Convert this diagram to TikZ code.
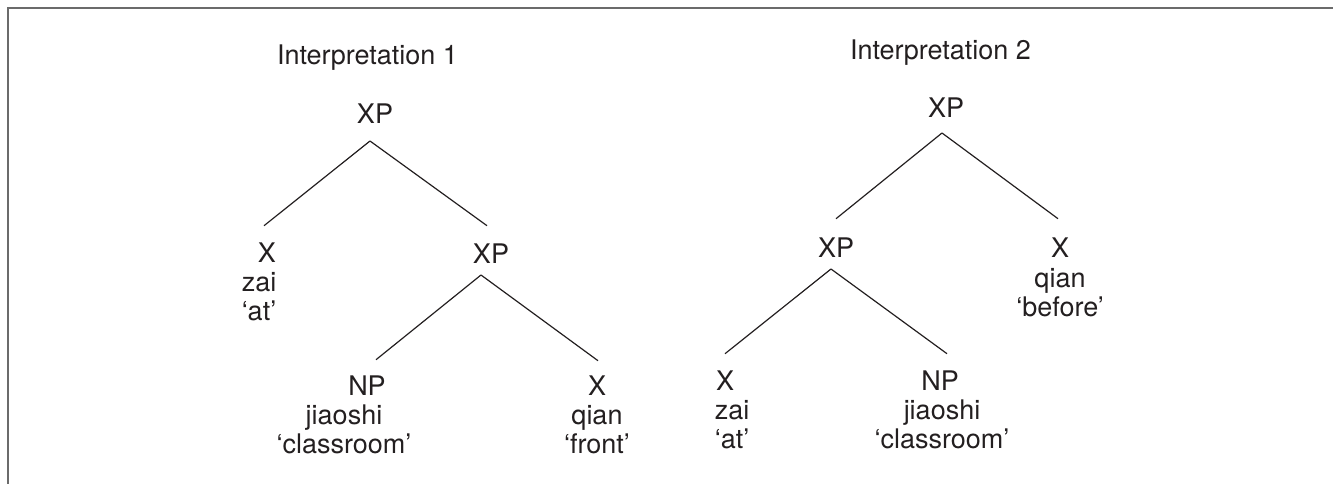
\documentclass[tikz,border=0pt]{standalone}
\usepackage{fontspec}
\setmainfont{TeX Gyre Heros}
\definecolor{ink}{HTML}{231F20}
\definecolor{framegray}{HTML}{6B6B6B}
\tikzset{
  lbl/.style={inner sep=0pt, outer sep=0pt, anchor=base, text=ink,
    font=\fontsize{27}{29.5}\selectfont},
  gloss/.style={lbl, align=center},
  title/.style={lbl, anchor=base west},
  branch/.style={draw=ink, line width=1.2pt},
  framebar/.style={draw=framegray, line width=2pt}
}
\begin{document}
\begin{tikzpicture}[x=1pt,y=-1pt]
\useasboundingbox (0,0) rectangle (1333,484);
% frame
\draw[framebar] (8,484) -- (8,8.5) -- (1333,8.5);

% ---------- Interpretation 1 ----------
\node[title] (t1) at (277,65) {Interpretation 1};
\node[lbl] (xp1) at (375,124) {XP};
\node[lbl] (x1) at (267,262) {X};
\node[gloss] (g1) at (259,320.5) {zai\\‘at’};
\node[lbl] (xp2) at (491,263) {XP};
\node[lbl] (np1) at (367,395) {NP};
\node[gloss] (g3) at (344,453.5) {jiaoshi\\‘classroom’};
\node[lbl] (xq1) at (597,395) {X};
\node[gloss] (g4) at (597,453.5) {qian\\‘front’};

\draw[branch] ([xshift=-5pt,yshift=-17pt]xp1.south) -- ([xshift=-3pt,yshift=16.6pt]x1.north);
\draw[branch] ([xshift=-5pt,yshift=-17pt]xp1.south) -- ([xshift=-4pt,yshift=17.6pt]xp2.north);
\draw[branch] ([xshift=-10pt,yshift=-12pt]xp2.south) -- ([xshift=9pt,yshift=15.6pt]np1.north);
\draw[branch] ([xshift=-10pt,yshift=-12pt]xp2.south) -- ([xshift=1pt,yshift=14.6pt]xq1.north);

% ---------- Interpretation 2 ----------
\node[title] (t2) at (850,60) {Interpretation 2};
\node[lbl] (xpr) at (946,118) {XP};
\node[lbl] (xpr2) at (836,257) {XP};
\node[lbl] (xr) at (1060,257) {X};
\node[gloss] (gr) at (1060,316.5) {qian\\‘before’};
\node[lbl] (xr2) at (725,390) {X};
\node[gloss] (gr2) at (732,448.5) {zai\\‘at’};
\node[lbl] (npr) at (940,390) {NP};
\node[gloss] (gr3) at (942,448.5) {jiaoshi\\‘classroom’};

\draw[branch] ([xshift=-4pt,yshift=-15pt]xpr.south) -- ([yshift=18.6pt]xpr2.north);
\draw[branch] ([xshift=-4pt,yshift=-15pt]xpr.south) -- ([xshift=-2pt,yshift=18.6pt]xr.north);
\draw[branch] ([xshift=-5pt,yshift=-12pt]xpr2.south) -- ([yshift=16.6pt]xr2.north);
\draw[branch] ([xshift=-5pt,yshift=-12pt]xpr2.south) -- ([xshift=7pt,yshift=16.6pt]npr.north);
\end{tikzpicture}
\end{document}
